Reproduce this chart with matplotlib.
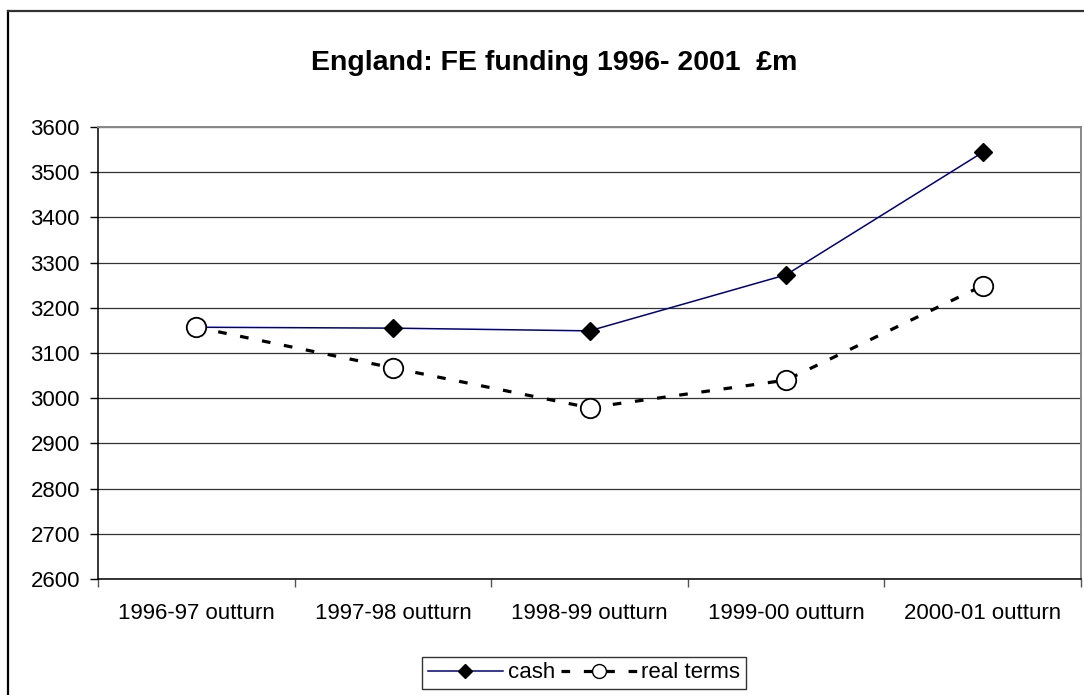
import matplotlib
matplotlib.use("Agg")
import matplotlib.pyplot as plt
from matplotlib.lines import Line2D

# Data
categories = ["1996-97 outturn", "1997-98 outturn", "1998-99 outturn",
              "1999-00 outturn", "2000-01 outturn"]
cash = [3157, 3155, 3149, 3273, 3544]
real_terms = [3157, 3067, 2979, 3040, 3249]
y_ticks = [2600, 2700, 2800, 2900, 3000, 3100, 3200, 3300, 3400, 3500, 3600]

plt.rcParams["font.family"] = ["Liberation Sans", "DejaVu Sans"]

W, H = 1084, 695
fig = plt.figure(figsize=(W / 100, H / 100), dpi=100)

def fx(px):
    return px / W

def fy(py):
    return 1 - py / H

# chart frame (left and top edges visible)
fig.add_artist(Line2D([fx(8), fx(8)], [fy(11), 0], color="black", lw=1.6))
fig.add_artist(Line2D([fx(8), 1], [fy(11), fy(11)], color="#333333", lw=1.6))

ax = fig.add_axes([fx(98), fy(579), fx(1081) - fx(98), fy(127) - fy(579)])
x = list(range(len(categories)))

dash = (0, (2.7, 4.3))
ax.plot(x, cash, color="#000080", lw=1.1, marker="D", ms=9.5,
        mfc="black", mec="black", zorder=3)
ax.plot(x, real_terms, color="black", lw=2.3, ls=dash,
        marker="o", ms=14, mfc="white", mec="black", mew=1.3, zorder=4)

ax.set_xlim(-0.5, len(categories) - 0.5)
ax.set_ylim(y_ticks[0], y_ticks[-1])
ax.set_yticks(y_ticks)
ax.set_xticks(x)
ax.set_xticklabels(categories)
ax.set_xticks([i - 0.5 for i in range(len(categories) + 1)], minor=True)
ax.tick_params(axis="x", which="major", length=0, pad=17, labelsize=16)
ax.tick_params(axis="x", which="minor", length=6, width=1, color="#555555")
ax.tick_params(axis="y", length=6, width=1, pad=7, labelsize=16)
ax.yaxis.grid(True, color="#333333", lw=0.9)
ax.set_axisbelow(True)

for side in ("left", "bottom"):
    ax.spines[side].set_color("black")
    ax.spines[side].set_linewidth(1.1)
for side in ("top", "right"):
    ax.spines[side].set_color("#888888")
    ax.spines[side].set_linewidth(1.4)

fig.text(fx(554), fy(70), "England: FE funding 1996- 2001  £m",
         ha="center", va="baseline", fontsize=20.5, fontweight="bold")

handles = [
    Line2D([], [], color="#000080", lw=1.1, marker="D", ms=7,
           mfc="black", mec="black"),
    Line2D([], [], color="black", lw=2.3, ls=dash, marker="o",
           ms=10, mfc="white", mec="black", mew=1),
]
leg = fig.legend(handles, ["cash", "real terms"], loc="center",
                 bbox_to_anchor=(fx(584), fy(673)), ncol=2, fontsize=16,
                 frameon=True, fancybox=False, edgecolor="black",
                 handlelength=3.4, handletextpad=0.2, columnspacing=0.3,
                 borderpad=0.25, borderaxespad=0)
leg.get_frame().set_linewidth(1.0)

fig.savefig("out.png", dpi=100)
